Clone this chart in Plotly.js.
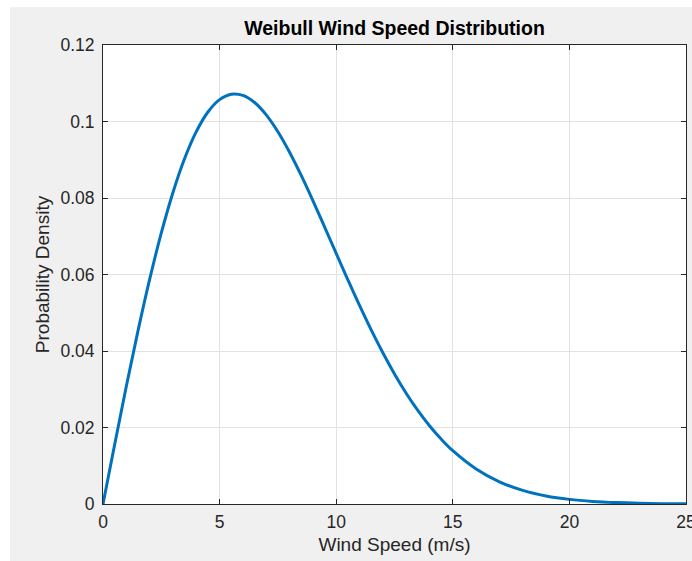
<!DOCTYPE html>
<html>
<head>
<meta charset="utf-8">
<script src="https://cdn.plot.ly/plotly-3.0.1.min.js"></script>
<style>
html,body{margin:0;padding:0;background:#ffffff;width:692px;height:561px;overflow:hidden;position:relative;}
#chart{position:absolute;left:10px;top:7px;width:702px;height:554px;}
</style>
</head>
<body>
<div id="chart"></div>
<script>
// Wind speed (m/s) and probability density
const windSpeed = [0,0.5,1,1.5,2,2.5,3,3.5,4,4.5,5,5.5,6,6.5,7,7.5,8,8.5,9,9.5,10,10.5,11,11.5,12,12.5,13,13.5,14,14.5,15,16,17,18,19,20,21,22,23,24,25];
const density = [0,0.01556,0.03077,0.04526,0.05871,0.07086,0.08145,0.09032,0.09735,0.10248,0.10572,0.10714,0.10683,0.10497,0.10173,0.09732,0.09197,0.08590,0.07933,0.07247,0.06550,0.05861,0.05190,0.04551,0.03953,0.03400,0.02897,0.02446,0.02046,0.01697,0.01394,0.00916,0.00581,0.00356,0.00211,0.00121,0.00067,0.00036,0.00018,0.00009,0.00004];
const xTicks = [0,5,10,15,20,25];
const yTicks = [0,0.02,0.04,0.06,0.08,0.1,0.12];
const yTickText = ['0','0.02','0.04','0.06','0.08','0.1','0.12'];

const axisColor = '#262626';
const fontFam = 'Liberation Sans, Arial, Helvetica, sans-serif';

const trace = {
  x: windSpeed, y: density, type: 'scatter', mode: 'lines',
  line: {color: '#0072BD', width: 3, shape: 'spline', smoothing: 1},
  hoverinfo: 'x+y'
};

const common = {
  showline: true, linecolor: axisColor, linewidth: 1, mirror: 'ticks',
  ticks: 'inside', ticklen: 5, tickcolor: axisColor, tickwidth: 1,
  showgrid: true, gridcolor: '#e2e2e2', gridwidth: 1,
  zeroline: false, automargin: false,
  tickfont: {family: fontFam, size: 17.5, color: axisColor}
};

const layout = {
  width: 702, height: 554,
  margin: {l: 93, r: 26, t: 38, b: 57},
  paper_bgcolor: '#f0f0f0', plot_bgcolor: '#ffffff',
  showlegend: false,
  title: {text: '<b>Weibull Wind Speed Distribution</b>', font: {family: fontFam, size: 19.5, color: '#000000'},
          x: 0.5, xref: 'paper', xanchor: 'center', y: 1, yref: 'paper', yanchor: 'bottom', pad: {b: 10}},
  xaxis: Object.assign({}, common, {
    range: [0, 25], tickvals: xTicks, ticktext: xTicks.map(String),
    ticklabelstandoff: 2,
    title: {text: 'Wind Speed (m/s)', font: {family: fontFam, size: 19, color: axisColor}, standoff: 6}
  }),
  yaxis: Object.assign({}, common, {
    range: [0, 0.12], tickvals: yTicks, ticktext: yTickText,
    ticklabelstandoff: 4,
    title: {text: 'Probability Density', font: {family: fontFam, size: 19, color: axisColor}, standoff: 5}
  })
};

Plotly.newPlot('chart', [trace], layout, {displayModeBar: false, staticPlot: true});
</script>
</body>
</html>
